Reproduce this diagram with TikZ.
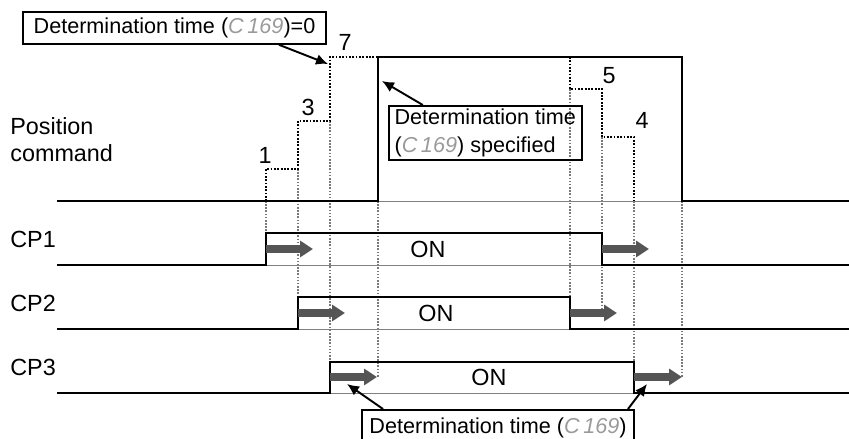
\documentclass[tikz,border=0pt]{standalone}
\usepackage{fontspec}
\setmainfont{Liberation Sans}
\usetikzlibrary{arrows.meta, positioning, calc}
\definecolor{arrgray}{HTML}{555555}
\definecolor{extgray}{HTML}{7A7A7A}
\definecolor{seggray}{HTML}{9A9A9A}
\newcommand{\paramcode}{{\color{seggray}\itshape C\,169}}

\begin{document}
\begin{tikzpicture}[
  sig/.style={line width=1.6pt, line join=miter},
  base/.style={gray, line width=0.5pt},
  stepline/.style={line width=1pt, dash pattern=on 1pt off 0.9pt},
  ext/.style={extgray, line width=0.7pt, dash pattern=on 0.9pt off 0.9pt},
  hold/.style={-{Triangle[length=2.6mm, width=3.2mm]}, line width=1.6mm, arrgray},
  callout/.style={-{Latex[length=2.4mm, width=2.2mm]}, line width=1.1pt},
  lblbox/.style={draw, line width=0.9pt, inner sep=2pt,
                 font=\fontsize{12.3}{15.4}\selectfont},
  lbl/.style={inner sep=0pt, font=\fontsize{13.3}{15.4}\selectfont}
]

\useasboundingbox (0,0) rectangle (16.98,8.78);
\clip (0,0) rectangle (16.98,8.78);

% === Extension lines (gray dotted) ===
\draw[ext] (5.32,4.76) -- (5.32,4.12);
\draw[ext] (5.96,5.40) -- (5.96,2.84);
\draw[ext] (6.60,6.36) -- (6.60,1.54);
\draw[ext] (7.56,4.76) -- (7.56,1.24);
\draw[ext] (11.40,7.00) -- (11.40,2.84);
\draw[ext] (12.04,6.04) -- (12.04,2.58);
\draw[ext] (12.68,4.76) -- (12.68,1.54);
\draw[ext] (13.64,4.76) -- (13.64,1.24);

% === Command steps (black dotted) ===
\draw[stepline] (5.32,4.76) -- (5.32,5.40) -- (5.96,5.40) -- (5.96,6.36)
  -- (6.60,6.36) -- (6.60,7.64) -- (7.56,7.64);
\draw[stepline] (11.40,7.64) -- (11.40,7.00) -- (12.04,7.00) -- (12.04,6.04)
  -- (12.68,6.04) -- (12.68,4.76);

\node[lbl] (n1) at (5.30,5.68) {1};
\node[lbl] (n3) at (6.16,6.64) {3};
\node[lbl] (n7) at (6.90,7.94) {7};
\node[lbl] (n5) at (12.18,7.26) {5};
\node[lbl] (n4) at (12.84,6.38) {4};

% === Signals ===
\foreach \y in {4.76, 3.48, 2.20, 0.92}
  \draw[base] (1.14,\y) -- (16.98,\y);

% low / high / rise / fall
\foreach \lo/\hi/\up/\dn in {4.76/7.64/7.56/13.64, 3.48/4.12/5.32/12.04,
                             2.20/2.84/5.96/11.40, 0.92/1.54/6.60/12.68}
  \draw[sig] (1.14,\lo) -- (\up,\lo) -- (\up,\hi) -- (\dn,\hi)
    -- (\dn,\lo) -- (16.98,\lo);

\node[lbl, anchor=west, align=left] (pos) at (0.2,5.99) {Position\\command};
\node[lbl, anchor=west] (cp1) at (0.2,4.00) {CP1};
\node[lbl, anchor=west] (cp2) at (0.2,2.72) {CP2};
\node[lbl, anchor=west] (cp3) at (0.2,1.44) {CP3};

% === Determination time arrows ===
\draw[hold] (5.32,3.80) -- (6.26,3.80);
\draw[hold] (12.04,3.80) -- (12.98,3.80);
\draw[hold] (5.96,2.52) -- (6.90,2.52);
\draw[hold] (11.40,2.52) -- (12.34,2.52);
\draw[hold] (6.60,1.24) -- (7.54,1.24);
\draw[hold] (12.68,1.24) -- (13.64,1.24);

\node[lbl] (on1) at (8.56,3.80) {ON};
\node[lbl] (on2) at (8.72,2.52) {ON};
\node[lbl] (on3) at (9.78,1.24) {ON};

% === Callouts ===
\node[lblbox, minimum width=6.06cm, minimum height=0.64cm] (zero)
  at (3.49,8.22) {Determination time (\paramcode)=0};
\coordinate (c7) at (6.56,7.50);
\draw[callout] ([xshift=2.09cm]zero.south) -- (c7);

\node[lblbox, anchor=north west, align=left, minimum width=3.86cm,
      minimum height=1.08cm] (spec)
  at (7.76,6.68) {Determination time\\(\paramcode) specified};
\coordinate (crise) at (7.64,7.16);
\draw[callout] ([xshift=-1.25cm]spec.north) -- (crise);

\node[lblbox, anchor=north, minimum width=5.44cm, minimum height=0.72cm] (det)
  at (9.96,0.60) {Determination time (\paramcode)};
\coordinate (con) at (6.94,1.10);
\coordinate (coff) at (12.94,1.10);
\draw[callout] ([xshift=-2.30cm]det.north) -- (con);
\draw[callout] ([xshift=2.60cm]det.north) -- (coff);

\end{tikzpicture}
\end{document}
